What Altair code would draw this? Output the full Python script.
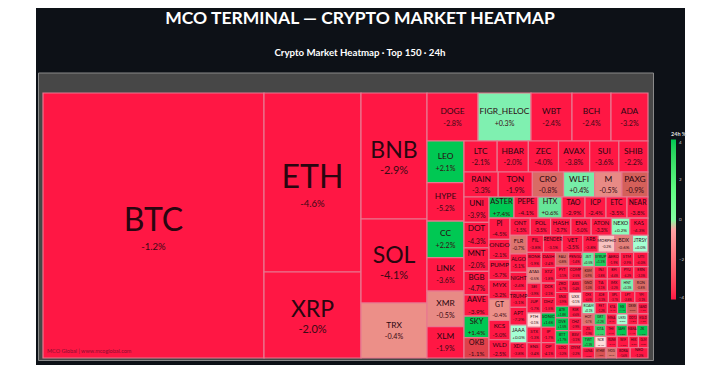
import math
import altair as alt
import pandas as pd

TITLE = "MCO TERMINAL — CRYPTO MARKET HEATMAP"
SUBTITLE = "Crypto Market Heatmap · Top 150 · 24h"
FOOTER = "MCO Global | www.mcoglobal.com"
FONT = "Lato, Liberation Sans, Arial, sans-serif"

# (symbol, 24h change %, market weight)
MID = [("ETH", -4.6, 179), ("XRP", -2.0, 86)]
THIRD = [("BNB", -2.9, 126), ("SOL", -4.1, 84), ("TRX", -0.4, 55)]
TOP_ROW = [("DOGE", -2.8, 51), ("FIGR_HELOC", 0.3, 53), ("WBT", -2.4, 41), ("BCH", -2.4, 39), ("ADA", -3.2, 37)]
COL_LEO = [("LEO", 2.1, 41), ("HYPE", -5.2, 38), ("CC", 2.2, 36), ("LINK", -3.6, 33), ("XMR", -0.5, 35), ("XLM", -1.9, 31)]
ROW_LTC = [("LTC", -2.1, 33), ("HBAR", -2.0, 31), ("ZEC", -4.0, 30), ("AVAX", -3.8, 31), ("SUI", -3.6, 29), ("SHIB", -2.2, 29)]
ROW_RAIN = [("RAIN", -3.3, 34), ("TON", -1.9, 34), ("CRO", -0.8, 31), ("WLFI", 0.4, 31), ("M", -0.5, 27), ("PAXG", -0.9, 26)]
COL_UNI = [("UNI", -3.9, 25), ("DOT", -4.3, 25), ("MNT", -2.0, 23), ("BGB", -4.7, 23), ("AAVE", -3.9, 21), ("SKY", 1.4, 21), ("OKB", -1.1, 20)]
ROW_ASTER = [("ASTER", 7.4, 25), ("PEPE", -4.1, 24), ("HTX", 0.6, 24), ("TAO", -2.9, 23), ("ICP", -2.4, 21), ("ETC", -3.5, 21), ("NEAR", -3.8, 21)]
COL_PI = [("PI", -4.5, 21), ("ONDO", -2.1, 20), ("PUMP", -5.7, 20), ("MYX", -3.2, 19), ("GT", -0.4, 21), ("KCS", -5.0, 19), ("WLD", -2.5, 18)]
ROW_ONT = [("ONT", -1.5, 20), ("POL", -3.5, 20), ("HASH", -3.7, 20), ("ENA", -5.0, 20), ("ATON", -3.3, 20), ("NEXO", 0.2, 18), ("KAS", -4.3, 18)]
COL_FLR = [("FLR", -0.7, 18), ("ALGO", -5.1, 18), ("NIGHT", -2.4, 18), ("TRUMP", -3.1, 16), ("APT", -7.2, 17), ("JAAA", 0.0, 17), ("XDC", -3.8, 15)]
ROW_FIL = [("FIL", -3.8, 16), ("RENDER", -3.1, 18), ("VET", -3.5, 20), ("ARB", -3.8, 15), ("MORPHO", -0.2, 16), ("BDX", -0.6, 17), ("JTRSY", 0.0, 15)]
COL_A1 = [("BONK", -1.9, 15), ("ATAS", -0.5, 15), ("SEI", -3.9, 14), ("JUP", -1.7, 15), ("FTH", -0.1, 14), ("STX", -1.3, 15), ("ENS", -3.4, 15)]
COL_A2 = [("DASH", -2.4, 15), ("XTZ", -1.8, 15), ("DCR", -2.1, 14), ("DHZ", -1.5, 15), ("SONIC", 1.6, 14), ("IP", -1.7, 15), ("OP", -4.1, 15)]
COL_A3 = [("FAU", -0.8, 13), ("PYT", -3.1, 13), ("ZRO", -4.7, 12), ("SNX", -3.9, 13), ("ATE", 1.8, 11), ("DVE", 1.5, 12), ("BTT", 1.7, 13), ("LDO", -3.2, 13)]
COL_A4 = [("PENGU", -1.4, 13), ("COMP", -2.5, 13), ("AXS", -3.4, 12), ("UXX", -0.1, 13), ("RSR", -4.6, 11), ("CHZ", -2.9, 12), ("BSV", -3.1, 13), ("DYM", -2.2, 13)]
ROW_B1 = [("JST", 0.5, 12), ("SYRUP", 1.3, 12), ("AERO", -1.9, 13), ("STM", -2.9, 13), ("UTI", -4.0, 14)]
ROW_B2 = [("KSM", -0.9, 12), ("INJ", -3.8, 13), ("BFI", -4.4, 13), ("PYU", -4.2, 13), ("ERN", -3.3, 14)]
ROW_B3 = [("GNO", -1.0, 12), ("TIA", -3.1, 13), ("IMX", -2.2, 13), ("HNT", 0.3, 13), ("RON", -0.8, 14)]
ROW_B4 = [("CFX", -4.4, 12), ("JOE", -3.3, 14), ("XPL", -3.7, 12), ("LPT", -2.8, 14), ("YFI", -3.1, 13)]
ROW_B5 = [("ROAM", 0.1, 13), ("FET", -1.2, 12), ("KTA", -2.4, 10), ("MX", 1.4, 9), ("DEXE", -0.9, 11), ("SAND", -1.5, 10)]
ROW_B6 = [("HOT", -0.7, 12), ("GRT", 1.2, 12), ("MINA", -3.4, 10), ("UKRS", 0.0, 11), ("DOT2", -1.8, 10), ("EGLD", -1.3, 10)]
ROW_B7 = [("ZIL", -1.9, 12), ("IOTA", 1.1, 11), ("THE", -2.1, 10), ("SAFE", 1.6, 11), ("MANA", -1.4, 9), ("ZK", 1.5, 11)]
ROW_B8 = [("TWT", 1.3, 12), ("NCB", -0.1, 11), ("RUNE", -2.1, 10), ("WIF", -1.5, 11), ("HEX", -3.2, 9), ("GLM", -3.3, 9)]
ROW_B9 = [("LUNA", -2.2, 12), ("ETHW", -1.0, 11), ("MOG", -0.7, 10), ("BORA", -1.6, 13), ("NEO", -1.2, 17)]
BTC = ("BTC", -1.2, 221)

TICKS = [-4, -2, 0, 2, 4]


def row(weight, cells):
    return ("h", weight, cells)


def col(weight, cells):
    return ("v", weight, cells)


def is_group(node):
    return isinstance(node[2], list)


region_a = row(55, [col(14, COL_A1), col(14, COL_A2), col(13, COL_A3), col(13, COL_A4)])
region_b = col(66, [row(14, ROW_B1), row(12, ROW_B2), row(12, ROW_B3), row(11, ROW_B4),
                    row(11, ROW_B5), row(11, ROW_B6), row(11, ROW_B7), row(11, ROW_B8), row(10, ROW_B9)])
block_i = row(105, [region_a, region_b])
block_h = col(121, [row(17, ROW_FIL), block_i])
block_g = row(122, [col(17, COL_FLR), block_h])
block_f = col(138, [row(17, ROW_ONT), block_g])
block_e = row(139, [col(21, COL_PI), block_f])
block_d = col(159, [row(21, ROW_ASTER), block_e])
block_c = row(161, [col(25, COL_UNI), block_d])
block_b = col(184, [row(31, ROW_LTC), row(25, ROW_RAIN), block_c])
block_r = row(217, [col(37, COL_LEO), block_b])
ROOT = row(265, [BTC, col(97, MID), col(66, THIRD), col(221, [row(48, TOP_ROW), block_r])])

W, H = 605, 265
rows = []


def layout(node, x0, y0, x1, y1):
    if is_group(node):
        kids = node[2]
        weights = [k[1] if is_group(k) else k[2] for k in kids]
        total = sum(weights)
        pos = x0 if node[0] == "h" else y0
        for k, w in zip(kids, weights):
            if node[0] == "h":
                nxt = pos + (x1 - x0) * w / total
                layout(k, pos, y0, nxt, y1)
            else:
                nxt = pos + (y1 - y0) * w / total
                layout(k, x0, pos, x1, nxt)
            pos = nxt
    else:
        sym, chg, _ = node
        ww, hh = x1 - x0, y1 - y0
        area = ww * hh
        if area >= 15000:
            fs, pf = 32, 9.5
        elif area >= 5000:
            fs, pf = 23, 11
        else:
            fs = max(2.8, min(8.4, 0.38 * math.sqrt(area) - 1.3, (ww - 1) / (len(sym) * 0.62)))
            pf = fs * 0.85
        big = fs > 20
        rows.append(dict(sym=sym, chg=chg, pct=f"{chg:+.1f}%", x0=x0, x1=x1, y0=y0, y1=y1,
                         cx=(x0 + x1) / 2,
                         ys=(y0 + y1) / 2 + (-5 if big else -0.7 * fs),
                         yp=(y0 + y1) / 2 + (0.66 * fs if big else 0.8 * fs),
                         fs=fs, pf=pf))


layout(ROOT, 0, 0, W, H)
df = pd.DataFrame(rows)

sx = alt.Scale(domain=[0, W], range=[35, 640])
sy = alt.Scale(domain=[0, H], range=[85, 350])
one = pd.DataFrame({"a": [0]})

panel = alt.Chart(one).mark_rect(color="#0d1117").encode(
    x=alt.value(28), x2=alt.value(677), y=alt.value(0), y2=alt.value(357))
frame = alt.Chart(one).mark_rect(color="#474747", stroke="#8a8a8a", strokeWidth=1).encode(
    x=alt.value(30.5), x2=alt.value(645.5), y=alt.value(65), y2=alt.value(352.5))

cell_color = alt.Color(
    "chg:Q", legend=None,
    scale=alt.Scale(domain=[-1.2, -1.1, -0.9, -0.5, -0.4, -0.15, 0, 0.3, 1.4],
                    range=["#ff1744", "#e0404a", "#d4605a", "#e88a85", "#ec8f88", "#f8d0ce",
                           "#ffffff", "#7ff0b0", "#00c853"],
                    clamp=True))
cells = alt.Chart(df).mark_rect(stroke="#e8788f", strokeWidth=1.2).encode(
    x=alt.X("x0:Q", scale=sx, axis=None), x2="x1:Q",
    y=alt.Y("y0:Q", scale=sy, axis=None), y2="y1:Q",
    color=cell_color)

sym_text = alt.Chart(df).mark_text(font=FONT, color="#2a0610", baseline="middle").encode(
    x=alt.X("cx:Q", scale=sx, axis=None), y=alt.Y("ys:Q", scale=sy, axis=None),
    text="sym:N", size=alt.Size("fs:Q", scale=None, legend=None))
pct_text = alt.Chart(df).mark_text(font=FONT, color="#3a0a14", baseline="middle").encode(
    x=alt.X("cx:Q", scale=sx, axis=None), y=alt.Y("yp:Q", scale=sy, axis=None),
    text="pct:N", size=alt.Size("pf:Q", scale=None, legend=None))

footer = alt.Chart(pd.DataFrame({"t": [FOOTER]})).mark_text(
    font=FONT, fontSize=5.5, color="#8a1030", align="left", baseline="middle").encode(
    x=alt.value(39), y=alt.value(343), text="t:N")

scale_src = alt.Chart(pd.DataFrame({"v": TICKS})).mark_point(opacity=0, size=1).encode(
    x=alt.value(0), y=alt.value(0),
    color=alt.Color(
        "v:Q",
        scale=alt.Scale(domain=[-4, 0, 4], range=["#ff1744", "#ffffff", "#00c853"]),
        legend=alt.Legend(
            title="24h %", orient="none", legendX=663, legendY=124, direction="vertical",
            gradientLength=160, gradientThickness=5, values=TICKS,
            titleFontSize=5.5, titleColor="#dddddd", titleFont=FONT, titlePadding=2,
            labelFontSize=4.5, labelColor="#cccccc", labelFont=FONT, labelOffset=3,
            gradientStrokeWidth=0)))

chart = alt.layer(panel, frame, cells, sym_text, pct_text, footer, scale_src).resolve_scale(
    color="independent"
).properties(
    width=704, height=360, padding=0,
    autosize=alt.AutoSizeParams(type="none"),
    background="#ffffff",
    title=alt.Title(TITLE, subtitle=SUBTITLE, anchor="middle", font=FONT, fontSize=17.5, fontWeight="bold",
                    color="#ffffff", subtitleFont=FONT, subtitleFontSize=9.7, subtitleFontWeight="bold",
                    subtitleColor="#ffffff", subtitlePadding=20, zindex=1, offset=-50),
).configure_view(stroke=None)

chart.save("out.html", embed_options={"renderer": "svg", "actions": False})
